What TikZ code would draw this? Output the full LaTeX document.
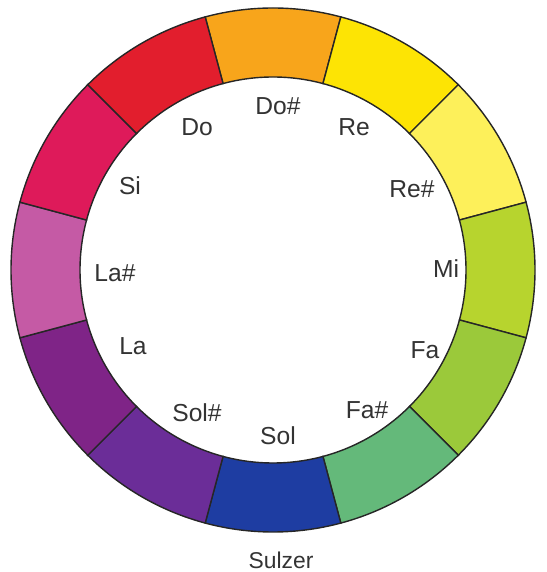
\documentclass[tikz,border=0pt]{standalone}
\usepackage{fontspec}
\setmainfont{Liberation Sans}
\usepackage{xcolor}
\usepackage{tikz}

\definecolor{cDo}{HTML}{E21E2D}
\definecolor{cDoS}{HTML}{F8A51B}
\definecolor{cRe}{HTML}{FDE404}
\definecolor{cReS}{HTML}{FDF05A}
\definecolor{cMi}{HTML}{B7D42E}
\definecolor{cFa}{HTML}{9BC93A}
\definecolor{cFaS}{HTML}{64B97A}
\definecolor{cSol}{HTML}{1E3DA2}
\definecolor{cSolS}{HTML}{6B2D98}
\definecolor{cLa}{HTML}{7F2487}
\definecolor{cLaS}{HTML}{C55AA5}
\definecolor{cSi}{HTML}{DE1A5A}

\begin{document}
\begin{tikzpicture}[note/.style={text=black!80, inner sep=0pt, font=\fontsize{14}{16}\selectfont}]

\useasboundingbox (0,0) rectangle (10.92,11.44);
\coordinate (c) at (5.46,6.04);

% the twelve segments of the ring
\foreach \a/\col in {90/cDoS, 60/cRe, 30/cReS, 0/cMi, -30/cFa, -60/cFaS,
                     -90/cSol, -120/cSolS, -150/cLa, 180/cLaS, 150/cSi, 120/cDo} {
  \filldraw[fill=\col, draw=black!85, line width=0.8pt]
    ([shift={({\a-15}:3.86)}]c) arc[start angle=\a-15, end angle=\a+15, radius=3.86]
    -- ([shift={({\a+15}:5.24)}]c) arc[start angle=\a+15, end angle=\a-15, radius=5.24]
    -- cycle;
}

\node[note] (doS)  at (5.56,9.32) {Do\#};
\node[note] (re)   at (7.08,8.90) {Re};
\node[note] (reS)  at (8.24,7.66) {Re\#};
\node[note] (mi)   at (8.92,6.06) {Mi};
\node[note] (fa)   at (8.50,4.44) {Fa};
\node[note] (faS)  at (7.34,3.24) {Fa\#};
\node[note] (sol)  at (5.56,2.72) {Sol};
\node[note] (solS) at (3.94,3.18) {Sol\#};
\node[note] (la)   at (2.66,4.52) {La};
\node[note] (laS)  at (2.30,5.98) {La\#};
\node[note] (si)   at (2.60,7.72) {Si};
\node[note] (do)   at (3.94,8.90) {Do};

\node[note, font=\fontsize{13}{15}\selectfont] (sulzer) at (5.62,0.24) {Sulzer};

\end{tikzpicture}
\end{document}
